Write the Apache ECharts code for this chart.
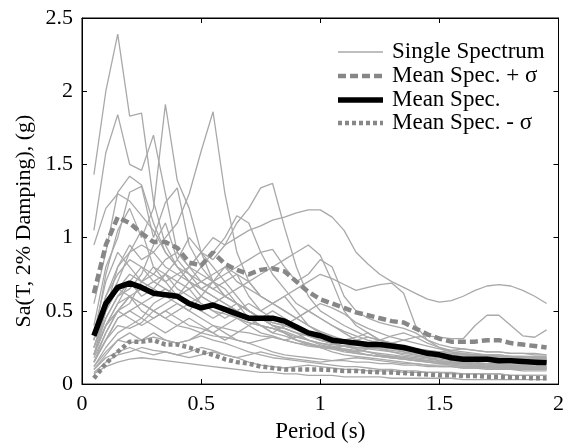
<!DOCTYPE html>
<html><head><meta charset="utf-8">
<script src="https://cdn.jsdelivr.net/npm/echarts@6/dist/echarts.min.js"></script>
<style>html,body{margin:0;padding:0;background:#fff}#c{width:567px;height:448px}</style>
</head><body><div id="c"></div>
<script>
const periods = [0.05,0.1,0.15,0.2,0.25,0.3,0.35,0.4,0.45,0.5,0.55,0.6,0.65,0.7,0.75,0.8,0.85,0.9,0.95,1.0,1.05,1.1,1.15,1.2,1.25,1.3,1.35,1.4,1.45,1.5,1.55,1.6,1.65,1.7,1.75,1.8,1.85,1.9,1.95];
const xTicks = [0,0.5,1,1.5,2];
const yTicks = [0,0.5,1,1.5,2,2.5];
const legendLabels = ['Single Spectrum','Mean Spec. + σ','Mean Spec.','Mean Spec. - σ'];
const meanSpec = [0.33,0.55,0.66,0.69,0.66,0.62,0.61,0.60,0.55,0.52,0.54,0.51,0.48,0.45,0.45,0.45,0.43,0.39,0.35,0.33,0.30,0.29,0.28,0.27,0.27,0.26,0.25,0.23,0.21,0.20,0.18,0.17,0.17,0.17,0.16,0.16,0.155,0.15,0.145];
const meanPlus = [0.62,0.95,1.14,1.10,1.03,0.97,0.97,0.93,0.83,0.81,0.90,0.82,0.78,0.75,0.78,0.79,0.77,0.70,0.63,0.58,0.55,0.52,0.49,0.47,0.45,0.43,0.42,0.38,0.34,0.31,0.29,0.29,0.29,0.30,0.30,0.28,0.27,0.26,0.25];
const meanMinus = [0.04,0.14,0.22,0.29,0.29,0.30,0.27,0.27,0.25,0.22,0.20,0.17,0.15,0.14,0.12,0.11,0.10,0.10,0.10,0.10,0.095,0.09,0.09,0.085,0.08,0.08,0.075,0.07,0.065,0.06,0.06,0.055,0.055,0.05,0.05,0.045,0.045,0.04,0.04];
const s1 = [1.43,2.0,2.39,1.83,1.85,1.25,0.95,0.8,0.7,0.6,0.55,0.5,0.45,0.42,0.4,0.38,0.35,0.3,0.27,0.25,0.22,0.2,0.19,0.18,0.17,0.16,0.15,0.14,0.13,0.12,0.12,0.11,0.11,0.1,0.1,0.1,0.09,0.09,0.09];
const s2 = [1.05,1.58,1.84,1.5,1.46,1.7,1.3,0.9,0.8,0.75,0.7,0.6,0.55,0.5,0.45,0.4,0.38,0.35,0.3,0.28,0.26,0.24,0.22,0.2,0.19,0.18,0.17,0.16,0.15,0.14,0.13,0.12,0.12,0.11,0.11,0.1,0.1,0.1,0.1];
const s3 = [0.3,0.75,1.05,1.2,1.0,1.2,1.91,1.39,1.2,0.9,0.7,0.65,0.55,0.5,0.45,0.4,0.38,0.35,0.33,0.3,0.28,0.26,0.24,0.22,0.2,0.19,0.18,0.17,0.16,0.15,0.14,0.13,0.13,0.12,0.12,0.11,0.11,0.1,0.1];
const s4 = [0.2,0.5,0.8,0.9,0.95,0.9,1.0,1.1,1.3,1.59,1.86,1.3,0.9,0.7,0.6,0.55,0.5,0.45,0.4,0.35,0.32,0.3,0.28,0.26,0.24,0.22,0.2,0.19,0.18,0.17,0.16,0.15,0.15,0.14,0.14,0.13,0.13,0.12,0.12];
const s5 = [0.55,0.9,1.31,1.42,1.36,1.1,0.9,0.8,0.7,0.65,0.6,0.55,0.5,0.45,0.4,0.38,0.36,0.33,0.3,0.27,0.25,0.23,0.21,0.2,0.19,0.18,0.17,0.16,0.15,0.14,0.14,0.13,0.13,0.12,0.12,0.11,0.11,0.11,0.1];
const s6 = [0.4,0.8,1.0,1.31,1.35,1.0,1.24,1.34,0.95,0.8,0.7,0.6,0.55,0.5,0.45,0.42,0.4,0.37,0.33,0.3,0.28,0.26,0.24,0.22,0.2,0.19,0.18,0.17,0.16,0.15,0.14,0.14,0.13,0.13,0.12,0.12,0.12,0.11,0.11];
const s7 = [0.25,0.5,0.65,0.75,0.7,0.8,0.75,0.7,0.8,0.9,1.0,0.95,1.1,1.2,1.34,1.37,1.07,0.8,0.6,0.5,0.45,0.4,0.36,0.32,0.3,0.28,0.26,0.24,0.22,0.2,0.19,0.18,0.18,0.17,0.17,0.16,0.16,0.15,0.15];
const s8 = [0.2,0.45,0.6,0.7,0.8,0.75,0.7,0.75,0.8,0.9,0.85,0.95,1.0,1.05,1.08,1.12,1.14,1.17,1.19,1.19,1.14,1.05,0.9,0.82,0.75,0.7,0.66,0.62,0.58,0.56,0.57,0.6,0.64,0.67,0.68,0.67,0.64,0.6,0.55];
const s9 = [0.15,0.35,0.5,0.6,0.55,0.5,0.55,0.6,0.65,0.7,0.75,0.8,0.7,0.65,0.6,0.55,0.6,0.65,0.7,0.75,0.72,0.68,0.64,0.66,0.68,0.69,0.62,0.4,0.3,0.25,0.22,0.2,0.2,0.19,0.19,0.18,0.18,0.18,0.17];
const s10 = [0.2,0.4,0.55,0.6,0.5,0.45,0.5,0.45,0.4,0.38,0.35,0.4,0.45,0.4,0.35,0.33,0.3,0.32,0.35,0.33,0.3,0.28,0.3,0.32,0.3,0.28,0.3,0.32,0.33,0.32,0.31,0.31,0.4,0.47,0.47,0.4,0.33,0.32,0.37];
const s11 = [0.15,0.3,0.45,0.5,0.55,0.5,0.45,0.5,0.55,0.6,0.55,0.6,0.65,0.7,0.75,0.8,0.85,0.9,0.95,0.88,0.7,0.5,0.4,0.35,0.3,0.28,0.25,0.23,0.22,0.2,0.19,0.18,0.18,0.17,0.17,0.16,0.16,0.15,0.15];
const s12 = [0.3,0.6,0.8,0.95,0.85,0.9,0.8,0.75,0.7,0.65,0.7,0.75,0.8,0.85,0.9,0.92,0.8,0.7,0.75,0.85,0.8,0.6,0.5,0.45,0.42,0.4,0.38,0.35,0.3,0.27,0.25,0.24,0.23,0.22,0.22,0.21,0.21,0.2,0.2];
const s13 = [0.3,0.55,0.7,0.9,1.05,0.8,0.7,0.6,0.55,0.5,0.45,0.5,0.55,0.5,0.45,0.4,0.38,0.35,0.33,0.3,0.28,0.26,0.25,0.24,0.23,0.22,0.21,0.2,0.19,0.18,0.17,0.17,0.16,0.16,0.15,0.15,0.15,0.14,0.14];
const s14 = [0.25,0.45,0.6,0.65,0.75,0.95,1.1,0.85,0.75,0.65,0.6,0.55,0.5,0.45,0.4,0.35,0.33,0.3,0.28,0.26,0.25,0.24,0.23,0.22,0.21,0.2,0.19,0.18,0.17,0.16,0.15,0.15,0.14,0.14,0.13,0.13,0.13,0.12,0.12];
const s15 = [0.2,0.4,0.55,0.7,0.6,0.65,0.75,0.85,1.0,0.9,0.8,0.7,0.6,0.5,0.45,0.4,0.35,0.3,0.28,0.25,0.24,0.22,0.21,0.2,0.19,0.18,0.17,0.16,0.16,0.15,0.15,0.14,0.14,0.13,0.13,0.13,0.12,0.12,0.12];
const s16 = [0.15,0.3,0.45,0.5,0.45,0.55,0.6,0.55,0.5,0.6,0.7,0.8,0.75,0.6,0.5,0.55,0.6,0.5,0.4,0.35,0.32,0.3,0.28,0.27,0.26,0.25,0.24,0.23,0.22,0.21,0.2,0.2,0.19,0.19,0.18,0.18,0.18,0.17,0.17];
const s17 = [0.12,0.25,0.35,0.4,0.45,0.4,0.35,0.4,0.45,0.4,0.35,0.3,0.35,0.4,0.45,0.5,0.45,0.4,0.35,0.3,0.28,0.3,0.32,0.35,0.3,0.27,0.25,0.22,0.2,0.19,0.18,0.17,0.17,0.16,0.16,0.15,0.15,0.15,0.14];
const s18 = [0.1,0.2,0.3,0.35,0.3,0.32,0.3,0.28,0.3,0.33,0.3,0.28,0.25,0.22,0.2,0.18,0.17,0.16,0.15,0.14,0.13,0.12,0.12,0.11,0.1,0.1,0.09,0.09,0.08,0.08,0.08,0.07,0.07,0.07,0.07,0.06,0.06,0.06,0.06];
const s19 = [0.07,0.12,0.15,0.17,0.18,0.17,0.16,0.15,0.14,0.13,0.12,0.11,0.1,0.09,0.08,0.08,0.07,0.07,0.06,0.06,0.06,0.05,0.05,0.05,0.05,0.04,0.04,0.04,0.04,0.04,0.04,0.03,0.03,0.03,0.03,0.03,0.03,0.03,0.03];
const s20 = [0.1,0.18,0.22,0.25,0.22,0.2,0.22,0.2,0.18,0.2,0.22,0.2,0.18,0.15,0.13,0.12,0.11,0.12,0.13,0.12,0.11,0.1,0.1,0.09,0.09,0.09,0.08,0.08,0.08,0.08,0.07,0.07,0.07,0.07,0.07,0.06,0.06,0.06,0.06];
const s21 = [0.25,0.5,0.65,0.6,0.55,0.6,0.65,0.6,0.55,0.5,0.55,0.6,0.55,0.45,0.4,0.35,0.4,0.45,0.5,0.45,0.4,0.35,0.3,0.28,0.3,0.33,0.35,0.32,0.28,0.25,0.23,0.22,0.21,0.2,0.2,0.19,0.19,0.18,0.18];
const s22 = [0.18,0.35,0.5,0.55,0.7,0.65,0.6,0.7,0.65,0.55,0.5,0.45,0.5,0.55,0.5,0.45,0.4,0.45,0.5,0.55,0.52,0.48,0.42,0.38,0.35,0.32,0.3,0.28,0.26,0.24,0.22,0.21,0.2,0.2,0.19,0.19,0.18,0.18,0.18];
const s23 = [0.3,0.6,0.75,0.85,0.8,0.7,0.75,0.65,0.6,0.55,0.5,0.48,0.45,0.42,0.4,0.38,0.35,0.32,0.3,0.28,0.27,0.26,0.25,0.25,0.24,0.23,0.22,0.21,0.2,0.19,0.19,0.18,0.18,0.18,0.17,0.17,0.17,0.16,0.16];
const s24 = [0.2,0.4,0.5,0.45,0.4,0.45,0.5,0.55,0.5,0.45,0.4,0.38,0.36,0.35,0.33,0.32,0.3,0.28,0.27,0.26,0.25,0.26,0.27,0.28,0.27,0.25,0.23,0.22,0.21,0.22,0.23,0.24,0.23,0.22,0.22,0.21,0.21,0.21,0.2];
const s25 = [0.15,0.3,0.4,0.38,0.42,0.5,0.45,0.4,0.38,0.35,0.33,0.32,0.3,0.28,0.25,0.22,0.2,0.19,0.18,0.17,0.16,0.16,0.15,0.15,0.14,0.14,0.13,0.13,0.12,0.12,0.12,0.11,0.11,0.11,0.11,0.1,0.1,0.1,0.1];
const s26 = [0.35,0.7,0.9,0.8,0.7,0.75,0.85,0.9,0.8,0.7,0.65,0.7,0.75,0.7,0.6,0.55,0.5,0.45,0.4,0.36,0.33,0.3,0.28,0.27,0.26,0.25,0.25,0.24,0.23,0.22,0.21,0.21,0.2,0.2,0.2,0.19,0.19,0.19,0.19];
const s27 = [0.12,0.22,0.3,0.28,0.3,0.35,0.3,0.28,0.3,0.35,0.4,0.35,0.3,0.28,0.3,0.32,0.3,0.28,0.26,0.25,0.24,0.23,0.22,0.24,0.26,0.25,0.22,0.2,0.18,0.16,0.15,0.15,0.14,0.14,0.13,0.13,0.13,0.13,0.12];
const s28 = [0.08,0.15,0.2,0.22,0.25,0.23,0.22,0.2,0.22,0.25,0.23,0.2,0.18,0.2,0.22,0.2,0.18,0.17,0.16,0.15,0.16,0.17,0.18,0.17,0.16,0.15,0.14,0.14,0.13,0.13,0.13,0.12,0.12,0.12,0.12,0.11,0.11,0.11,0.11];
const s29 = [0.95,1.2,1.3,1.25,1.15,1.05,0.9,0.8,0.75,0.7,0.65,0.6,0.55,0.5,0.45,0.42,0.4,0.38,0.35,0.33,0.3,0.28,0.27,0.26,0.25,0.24,0.23,0.22,0.21,0.2,0.2,0.19,0.19,0.18,0.18,0.18,0.17,0.17,0.17];
const s30 = [0.2,0.4,0.5,0.6,0.65,0.7,0.65,0.6,0.7,0.8,0.9,1.0,1.15,1.1,0.9,0.75,0.65,0.55,0.5,0.45,0.4,0.36,0.33,0.3,0.28,0.26,0.25,0.24,0.23,0.22,0.21,0.2,0.2,0.19,0.19,0.18,0.18,0.18,0.17];
const singles = [s1,s2,s3,s4,s5,s6,s7,s8,s9,s10,s11,s12,s13,s14,s15,s16,s17,s18,s19,s20,s21,s22,s23,s24,s25,s26,s27,s28,s29,s30];

const FONT = 'Liberation Serif';
const GREY = '#a9a9a9', DGREY = '#878787';
const styles = [
  {color:GREY, width:1.3, type:'solid'},
  {color:DGREY, width:4.5, type:[8,4]},
  {color:'#000', width:5.5, type:'solid'},
  {color:DGREY, width:4.5, type:[4,3]}
];
const pair = arr => periods.map((p,i)=>[p,arr[i]]);
const series = [];
singles.forEach(s => series.push({
  name:legendLabels[0], type:'line', data:pair(s), symbol:'none', silent:true,
  lineStyle:{color:styles[0].color, width:styles[0].width}, z:1
}));
[[meanPlus,1,3],[meanSpec,2,4],[meanMinus,3,3]].forEach(([arr,k,z]) => series.push({
  name:legendLabels[k], type:'line', data:pair(arr), symbol:'none', silent:true,
  lineStyle:{color:styles[k].color, width:styles[k].width, type:styles[k].type}, z:z
}));

function ax(extra){
  return Object.assign({
    type:'value',
    axisLine:{show:true, onZero:false, lineStyle:{color:'#000', width:1}},
    axisTick:{show:true, inside:true, length:5, lineStyle:{color:'#000', width:1}},
    splitLine:{show:false}
  }, extra);
}
const tickFont = {fontFamily:FONT, fontSize:22, color:'#000'};

// legend drawn as graphic lines + text
const legendGraphics = [];
const rowY = [52, 76, 100, 123];
legendLabels.forEach((lab,i) => {
  const st = styles[i];
  legendGraphics.push({type:'line', shape:{x1:338, y1:rowY[i], x2:383, y2:rowY[i]},
    style:{stroke:st.color, lineWidth:st.width, lineDash: Array.isArray(st.type)?st.type:null}, z:10});
  legendGraphics.push({type:'text', x:392, y:rowY[i],
    style:{text:lab, font:'23px "'+FONT+'"', fill:'#000', textAlign:'left', textVerticalAlign:'middle'}, z:10});
});
legendGraphics.push({type:'text', x:24, y:221, rotation:Math.PI/2,
  style:{text:'Sa(T, 2% Damping), (g)', font:'22px "'+FONT+'"', fill:'#000', textAlign:'center', textVerticalAlign:'middle'}});

const chart = echarts.init(document.getElementById('c'), null, {renderer:'canvas'});
chart.setOption({
  animation:false,
  backgroundColor:'#fff',
  grid:{left:82, right:6, top:18, bottom:59, containLabel:false, show:true, borderColor:'#000', borderWidth:1, backgroundColor:'transparent'},
  xAxis:[
    ax({min:xTicks[0], max:xTicks[xTicks.length-1], interval:0.5, position:'bottom',
      name:'Period (s)', nameLocation:'middle', nameGap:29,
      nameTextStyle:{fontFamily:FONT, fontSize:23, color:'#000'},
      axisLabel:Object.assign({margin:9}, tickFont)}),
    ax({min:xTicks[0], max:xTicks[xTicks.length-1], interval:0.5, position:'top', axisLabel:{show:false}})
  ],
  yAxis:[
    ax({min:yTicks[0], max:yTicks[yTicks.length-1], interval:0.5, position:'left',
      axisLabel:Object.assign({margin:9}, tickFont)}),
    ax({min:yTicks[0], max:yTicks[yTicks.length-1], interval:0.5, position:'right', axisLabel:{show:false}})
  ],
  graphic:legendGraphics,
  series:series
});
</script></body></html>
